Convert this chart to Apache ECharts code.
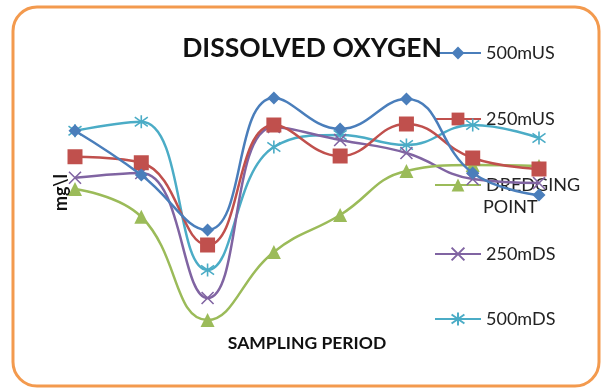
<!DOCTYPE html>
<html>
<head>
<meta charset="utf-8">
<script src="https://cdn.jsdelivr.net/npm/echarts@6/dist/echarts.min.js"></script>
<style>
  html, body { margin: 0; padding: 0; background: #fff; }
  #chart { width: 610px; height: 389px; }
</style>
</head>
<body>
<div id="chart"></div>
<script>
// Sampling periods (unlabelled on the chart)
const periods = ['1', '2', '3', '4', '5', '6', '7', '8'];

// Dissolved oxygen readings (mg/l) per station
const us500 = [7.97, 6.20, 4.00, 9.28, 8.04, 9.24, 6.28, 5.40];
const us250 = [6.93, 6.69, 3.40, 8.20, 6.96, 8.24, 6.88, 6.44];
const dredging = [5.64, 4.53, 0.40, 3.12, 4.60, 6.36, 6.60, 6.56];
const ds250 = [6.09, 6.28, 1.28, 8.12, 7.60, 7.08, 6.04, 5.88];
const ds500 = [7.97, 8.33, 2.40, 7.32, 7.80, 7.40, 8.20, 7.68];

const names = ['500mUS', '250mUS', 'DREDGING POINT', '250mDS', '500mDS'];
const colors = ['#4a7ebb', '#c0504d', '#9bbb59', '#8064a2', '#4bacc6'];

const crossPath = 'path://M0,0L10,10M10,0L0,10';
const starPath = 'path://M5,0L5,10M0,1.5L10,8.5M10,1.5L0,8.5';

function lineSeries(idx, data, symbol, size, outline) {
  const c = colors[idx];
  return {
    name: names[idx],
    type: 'line',
    data: data,
    smooth: 0.45,
    symbol: symbol,
    symbolSize: size,
    showAllSymbol: true,
    lineStyle: { color: c, width: 2.5 },
    itemStyle: outline
      ? { color: 'none', borderColor: c, borderWidth: 1.6 }
      : { color: c, borderColor: c, borderWidth: 0 },
    emphasis: { disabled: true },
    z: 10 - idx
  };
}

// vertical centre of each legend row
const legendRows = [52, 118, 184, 253, 318];

const chart = echarts.init(document.getElementById('chart'), null, { renderer: 'canvas' });
chart.setOption({
  animation: false,
  backgroundColor: '#ffffff',
  title: {
    text: 'DISSOLVED OXYGEN',
    left: 307,
    textAlign: 'center',
    top: 30,
    textStyle: { fontFamily: 'Lato', fontWeight: 'bold', fontSize: 26.5, color: '#111' }
  },
  legend: names.map((n, i) => ({
    data: [n],
    orient: 'vertical',
    left: 429,
    top: legendRows[i] - 16,
    itemWidth: 46,
    itemHeight: 16,
    itemGap: 6,
    selectedMode: false,
    formatter: (s) => (s === 'DREDGING POINT' ? 'DREDGING' : s),
    textStyle: { fontFamily: 'Lato', fontSize: 18, color: '#222', height: 24, lineHeight: 24 }
  })),
  grid: { left: 75, right: 71, top: 55, bottom: 59 },
  xAxis: {
    type: 'category',
    data: periods,
    boundaryGap: false,
    name: 'SAMPLING PERIOD',
    nameLocation: 'middle',
    nameGap: 4,
    nameTextStyle: { fontFamily: 'Lato', fontWeight: 'bold', fontSize: 17.5, color: '#111', verticalAlign: 'top' },
    axisLine: { show: false },
    axisTick: { show: false },
    axisLabel: { show: false },
    splitLine: { show: false }
  },
  yAxis: {
    type: 'value',
    min: 0,
    max: 11,
    name: 'mg\\l',
    nameLocation: 'middle',
    nameRotate: 90,
    nameGap: 5,
    nameTextStyle: { fontFamily: 'Lato', fontWeight: 'bold', fontSize: 18, color: '#111' },
    axisLine: { show: false },
    axisTick: { show: false },
    axisLabel: { show: false },
    splitLine: { show: false }
  },
  graphic: [
    {
      type: 'rect',
      shape: { x: 13, y: 7, width: 586, height: 379, r: 24 },
      style: { fill: 'none', stroke: '#f39a4e', lineWidth: 3 },
      silent: true,
      z: 0
    },
    {
      type: 'text',
      left: 483,
      top: 198,
      style: { text: 'POINT', font: '18px Lato', fill: '#222' },
      silent: true,
      z: 100
    }
  ],
  series: [
    lineSeries(0, us500, 'diamond', 13, false),
    lineSeries(1, us250, 'rect', 15, false),
    lineSeries(2, dredging, 'triangle', 14, false),
    lineSeries(3, ds250, crossPath, 12, true),
    lineSeries(4, ds500, starPath, 13, true)
  ]
});
</script>
</body>
</html>
